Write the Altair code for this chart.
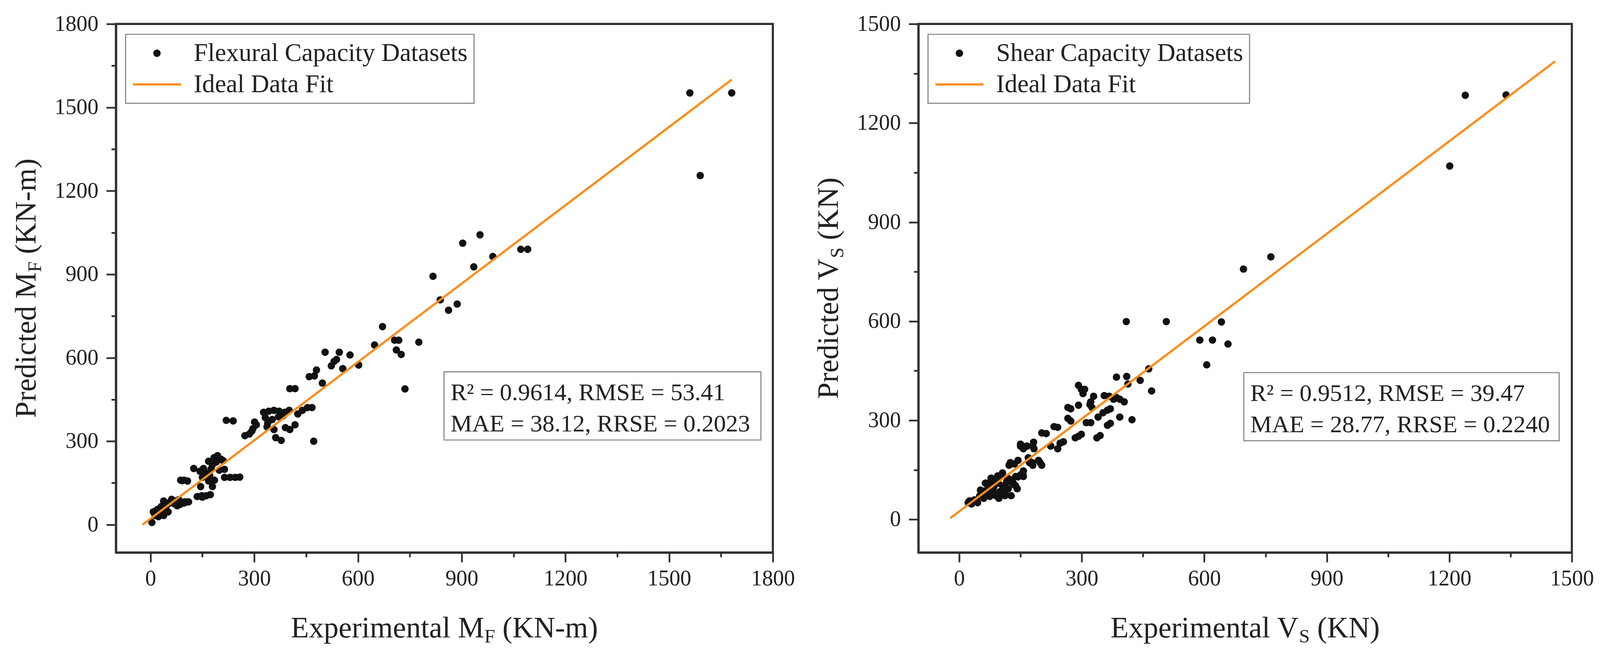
import altair as alt
import pandas as pd

# ------------------------------------------------------------------ data
flex_exp = [4, 8, 13, 15, 20, 23, 26, 30, 31, 33, 36, 38, 38, 43, 46, 46, 51, 56, 61, 64,
            69, 71, 77, 82, 84, 92, 97, 99, 107, 110,
            135, 148, 161, 173, 150,
            87, 92, 97, 107,
            125, 143, 153, 145, 168, 179, 171, 168, 184, 194, 204, 179, 199, 214, 214, 230,
            245, 258, 190, 160, 175, 210, 150, 185,
            219, 239,
            273, 286, 293, 301, 306, 296,
            327, 342, 357, 372, 388, 401, 332, 352, 370, 383, 337, 357, 339, 362, 378, 390,
            403, 418, 426, 439, 454, 467, 472, 403, 418, 459, 474, 480, 497, 505, 523, 531,
            538, 546, 556, 577, 602, 648, 671,
            706, 718, 711, 725, 736, 776, 817, 838, 862, 887, 903, 935, 953, 990, 1071, 1091,
            1560, 1590, 1681]
flex_pred = [8, 46, 33, 49, 55, 29, 33, 42, 65, 62, 52, 33, 85, 52, 68, 78, 46, 78, 91, 88,
             75, 85, 68, 90, 72, 78, 78, 82, 82, 82,
             101, 104, 104, 108, 99,
             160, 158, 160, 157,
             202, 192, 202, 137, 157, 137, 176, 228, 241, 248, 235, 215, 196, 199, 170, 170,
             170, 171, 225, 185, 200, 230, 170, 160,
             375, 373,
             320, 326, 336, 369, 359, 345,
             404, 408, 411, 408, 404, 411, 385, 378, 388, 391, 352, 342, 365, 313, 303, 349,
             342, 359, 398, 411, 421, 421, 300, 489, 489, 532, 535, 556, 509, 620, 571, 587,
             594, 620, 561, 610, 574, 646, 712,
             663, 663, 628, 612, 488, 656, 893, 808, 771, 793, 1012, 927, 1042, 964, 990, 990,
             1552, 1255, 1552]

shear_exp = [22, 30, 37, 45, 52, 60, 67, 71, 79, 82, 90, 97, 99, 90, 101, 112, 120, 127, 135,
             138, 150, 157, 122, 135, 105, 116, 127, 142, 52, 64, 157, 40, 75, 85, 110, 95, 60,
             130,
             25, 38, 50, 66, 69, 78, 85, 94, 103, 113, 94, 106, 119, 132, 138, 144, 156, 125,
             144, 169, 179, 150, 166, 182, 194, 75, 59, 106, 81,
             150, 165, 180, 157, 183, 172, 180, 198, 202, 202, 213, 232, 241, 224, 241, 255, 247,
             266, 273, 266, 273, 292, 284, 292, 299, 292, 299, 307, 303, 311, 322, 329, 322,
             320, 325, 337, 345, 340, 352, 363, 370, 355, 367, 363, 370, 378, 385, 393, 404,
             385, 410, 413, 393, 423, 443, 464, 471,
             409, 507, 589, 606, 620, 642, 658, 696, 763, 1201, 1239, 1339]
shear_pred = [51, 47, 59, 51, 72, 64, 80, 97, 114, 89, 72, 64, 84, 122, 130, 72, 93, 114, 105,
              130, 135, 130, 164, 168, 80, 114, 72, 93, 89, 110, 147, 55, 70, 100, 100, 110, 85,
              120,
              56, 59, 71, 110, 91, 125, 79, 74, 79, 86, 132, 141, 125, 110, 102, 129, 141, 172,
              179, 187, 172, 228, 222, 234, 179, 94, 82, 102, 110,
              222, 222, 222, 214, 214, 172, 164, 172, 164, 262, 260, 281, 279, 222, 214, 235, 231,
              306, 298, 339, 335, 346, 247, 252, 258, 406, 394, 394, 381, 293, 293, 373, 356,
              348, 339, 247, 254, 310, 323, 331, 335, 375, 373, 285, 291, 364, 369, 364, 356,
              431, 433, 410, 310, 302, 421, 456, 389,
              599, 599, 543, 468, 543, 598, 531, 758, 795, 1070, 1284, 1285]

flex_fit_exp = [-23, 1681]
flex_fit_pred = [0, 1600]
shear_fit_exp = [-22, 1459]
shear_fit_pred = [4, 1387]

flex_ticks = [0, 150, 300, 450, 600, 750, 900, 1050, 1200, 1350, 1500, 1650, 1800]
shear_ticks = [0, 150, 300, 450, 600, 750, 900, 1050, 1200, 1350, 1500]
flex_domain = [-100, 1800]
shear_domain = [-100, 1500]

flex_series = ["Flexural Capacity Datasets", "Ideal Data Fit"]
shear_series = ["Shear Capacity Datasets", "Ideal Data Fit"]
flex_stats = ["R\u00b2 = 0.9614, RMSE = 53.41", "MAE = 38.12, RRSE = 0.2023"]
shear_stats = ["R\u00b2 = 0.9512, RMSE = 39.47", "MAE = 28.77, RRSE = 0.2240"]

# ------------------------------------------------------------------ style
FONT = "Liberation Serif"
TXT = "#222222"
FRAME = "#303030"
ORANGE = "#FF8A16"
DOT = "#111111"
BOX = "#8c8c8c"
H = 1372
TF = 77      # axis title font size
SF = 50      # subscript size
TICKF = 57
LEGF = 66
STATF = 63
LW = 5.5     # frame / line widths

TW = {'E': .611, 'x': .5, 'p': .5, 'e': .444, 'r': .333, 'i': .278, 'm': .778, 'n': .5,
      't': .278, 'a': .444, 'l': .278, 'M': .889, 'F': .556, '(': .333, 'K': .722, 'N': .722,
      '-': .333, ')': .333, ' ': .25, 'P': .556, 'd': .5, 'c': .444, 'V': .722, 'S': .556}


def tw(s, size):
    return sum(TW.get(ch, .5) for ch in s) * size


ONE = pd.DataFrame({"k": [0]})


def txt(text, x, y, size, align="left", angle=0, dy=0, color=TXT):
    kw = dict(text=text, align=align, baseline="alphabetic", fontSize=size, font=FONT,
              color=color)
    if angle:
        kw["angle"] = angle
    if dy:
        kw["dy"] = dy
    return alt.Chart(ONE).mark_text(**kw).encode(x=alt.value(x), y=alt.value(y))


def axis(ticks, pad):
    return alt.Axis(values=ticks, format="d",
                    labelExpr="datum.value % 300 === 0 ? datum.label : ''",
                    tickSize={"condition": {"test": "datum.value % 300 === 0", "value": 25},
                              "value": 12},
                    grid=False, domainColor=FRAME, domainWidth=LW, tickColor=FRAME,
                    tickWidth=4.5, labelFont=FONT, labelFontSize=TICKF, labelColor=TXT,
                    labelPadding=pad, title=None, labelFlush=False, labelOverlap=False)


def panel(exp, pred, fit_x, fit_y, series, domain, ticks, sym, unit, stats, W, box):
    xs = alt.Scale(domain=domain, nice=False, zero=False)
    X = alt.X("exp:Q", scale=xs, axis=axis(ticks, 15))
    Y = alt.Y("pred:Q", scale=alt.Scale(domain=domain, nice=False, zero=False),
              axis=axis(ticks, 21))
    leg = alt.Legend(orient="none", legendX=25, legendY=27, title=None, fillColor="white",
                     strokeColor=BOX, padding=16, labelFont=FONT, labelFontSize=LEGF,
                     labelColor=TXT, labelOffset=30, labelLimit=3000, symbolStrokeWidth=LW,
                     clipHeight=66, rowPadding=15, symbolOpacity=1)
    df = pd.DataFrame({"exp": exp, "pred": pred, "series": series[0]})
    pts = alt.Chart(df).mark_point(filled=True, opacity=1).encode(
        x=X, y=Y,
        color=alt.Color("series:N", scale=alt.Scale(domain=series, range=[DOT, ORANGE]),
                        legend=leg),
        shape=alt.Shape("series:N", scale=alt.Scale(domain=series, range=["circle", "stroke"]),
                        legend=leg),
        size=alt.Size("series:N", scale=alt.Scale(type="ordinal", domain=series,
                                                  range=[370, 15625]), legend=leg),
        stroke=alt.Stroke("series:N", scale=alt.Scale(domain=series,
                                                      range=["transparent", ORANGE]),
                          legend=leg),
    )
    fit = alt.Chart(pd.DataFrame({"exp": fit_x, "pred": fit_y})).mark_line(
        color=ORANGE, strokeWidth=LW).encode(x=X, y=Y)

    # stats box
    bx0, bx1, by0, by1 = box
    rect = alt.Chart(ONE).mark_rect(fill="white", stroke=BOX, strokeWidth=3).encode(
        x=alt.value(bx0), x2=alt.value(bx1), y=alt.value(by0), y2=alt.value(by1))
    s1 = txt(stats[0], bx0 + 17, by0 + 74, STATF)
    s2 = txt(stats[1], bx0 + 17, by0 + 155, STATF)

    # x title with subscript
    main_x = "Experimental " + sym
    w_main = tw(main_x, TF)
    w_sub = tw(unit[0], SF)
    gap = tw(" ", TF)
    w_tail = tw(unit[1], TF)
    total = w_main + w_sub + gap + w_tail
    x0 = W / 2 - total / 2
    yb = H + 220
    xt = [txt(main_x, x0, yb, TF),
          txt(unit[0], x0 + w_main, yb, SF, dy=14),
          txt(unit[1], x0 + w_main + w_sub + gap, yb, TF)]

    # y title with subscript (rotated)
    main_y = "Predicted " + sym
    w_main = tw(main_y, TF)
    total = w_main + w_sub + gap + w_tail
    y0 = H / 2 + total / 2
    xb = -209
    yt = [txt(main_y, xb, y0, TF, angle=270),
          txt(unit[0], xb, y0 - w_main, SF, angle=270, dy=14),
          txt(unit[1], xb, y0 - w_main - w_sub - gap, TF, angle=270)]

    return alt.layer(pts, fit, rect, s1, s2, *xt, *yt).properties(width=W, height=H)


left = panel(flex_exp, flex_pred, flex_fit_exp, flex_fit_pred, flex_series, flex_domain,
             flex_ticks, "M", ("F", "(KN-m)"), flex_stats, 1706, (852, 1675, 903, 1080))
right = panel(shear_exp, shear_pred, shear_fit_exp, shear_fit_pred, shear_series,
              shear_domain, shear_ticks, "V", ("S", "(KN)"), shear_stats, 1697,
              (845, 1664, 905, 1082))

base = alt.hconcat(left, right, spacing=44).resolve_scale(
    color="independent", shape="independent", size="independent", stroke="independent"
).properties(padding={"left": 19, "top": 10, "right": 5, "bottom": 5})


def finish(c, legend_stroke):
    c = c.configure(font=FONT).configure_view(stroke=FRAME, strokeWidth=LW)
    if legend_stroke:
        c = c.configure_legend(strokeWidth=3)
    return c


try:
    chart = finish(base, True)
    chart.save("out.html", embed_options={"renderer": "svg", "actions": False})
except Exception:
    chart = finish(base, False)
    chart.save("out.html", embed_options={"renderer": "svg", "actions": False})
